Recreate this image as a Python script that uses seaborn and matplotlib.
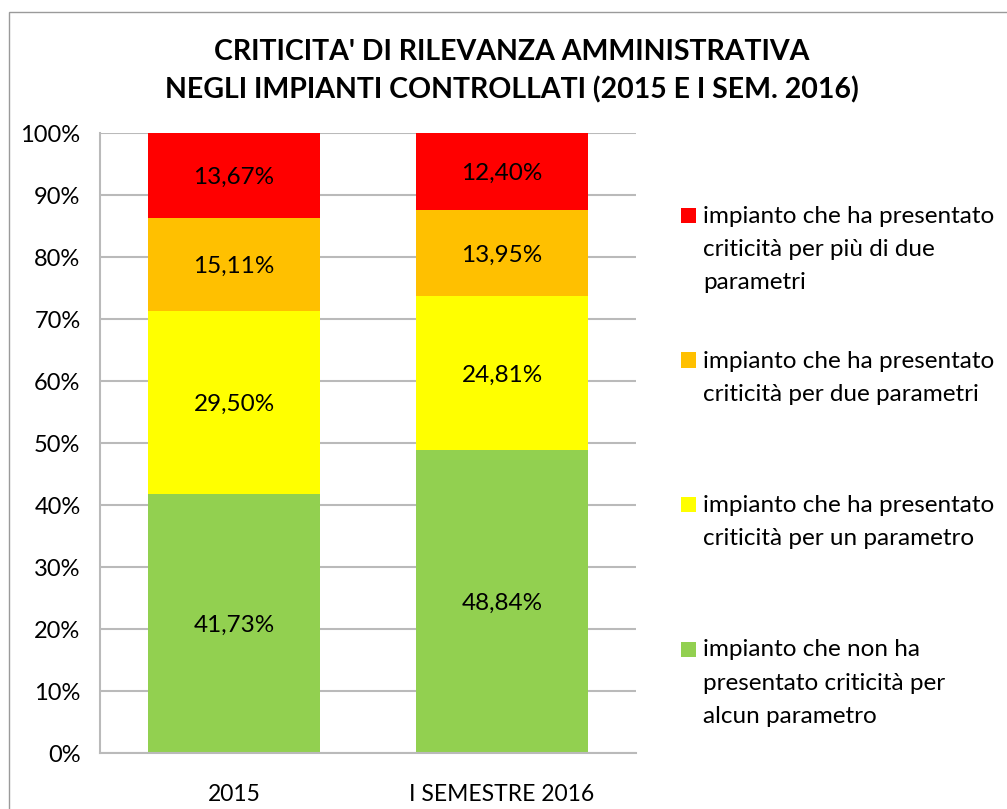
import numpy as np
import pandas as pd
import matplotlib
matplotlib.use("Agg")
import matplotlib.pyplot as plt
import matplotlib.patches as mpatches
import seaborn as sns

categories = ["2015", "I SEMESTRE 2016"]
series_names = [
    "impianto che non ha\npresentato criticità per\nalcun parametro",
    "impianto che ha presentato\ncriticità per un parametro",
    "impianto che ha presentato\ncriticità per due parametri",
    "impianto che ha presentato\ncriticità per più di due\nparametri",
]
values_2015 = [41.73, 29.50, 15.11, 13.67]
values_2016 = [48.84, 24.81, 13.95, 12.40]
colors = ["#92D050", "#FFFF00", "#FFC000", "#FF0000"]
yticks = [0, 10, 20, 30, 40, 50, 60, 70, 80, 90, 100]

title = "CRITICITA' DI RILEVANZA AMMINISTRATIVA\nNEGLI IMPIANTI CONTROLLATI (2015 E I SEM. 2016)"

sns.set_theme(style="white")
plt.rcParams["font.family"] = ["Lato", "DejaVu Sans"]

W, H = 1007, 809
fig = plt.figure(figsize=(W / 100, H / 100), dpi=100)
ax = fig.add_axes([100 / W, 1 - 753 / H, 536 / W, 620 / H])

vals = np.array([values_2015, values_2016])  # shape (cat, series)
cum = np.cumsum(vals, axis=1)

# draw from the top layer down so lower layers cover upper ones
for i in reversed(range(len(series_names))):
    df = pd.DataFrame({"cat": categories, "val": cum[:, i]})
    sns.barplot(data=df, x="cat", y="val", color=colors[i], saturation=1,
                width=0.645, linewidth=0, ax=ax, zorder=2)

for j in range(len(categories)):
    for i in range(len(series_names)):
        mid = cum[j, i] - vals[j, i] / 2
        ax.text(j, mid, f"{vals[j, i]:.2f}%".replace(".", ","), ha="center",
                va="center_baseline", fontsize=17.5, color="black", zorder=3)

ax.set_ylim(0, 100)
ax.set_xlim(-0.5, 1.5)
ax.set_yticks(yticks)
ax.set_yticklabels([f"{t}%" for t in yticks])
ax.set_xlabel("")
ax.set_ylabel("")
ax.set_axisbelow(True)
ax.yaxis.grid(True, color="#BABABA", linewidth=1.5, zorder=0)
ax.xaxis.grid(False)
for s in ["top", "right"]:
    ax.spines[s].set_visible(False)
for s in ["left", "bottom"]:
    ax.spines[s].set_color("#BABABA")
    ax.spines[s].set_linewidth(1.5)
ax.tick_params(axis="y", length=0, pad=14, labelsize=17, labelcolor="black")
ax.tick_params(axis="x", length=0, pad=22, labelsize=16.5, labelcolor="black")

fig.text(512 / W, 1 - 71 / H, title, ha="center", va="center", fontsize=20.5,
         fontweight="bold", linespacing=1.5, color="black")

# legend, top entry first, laid out like the spreadsheet legend
for k, i in enumerate(reversed(range(len(series_names)))):
    ytop = 215 + 144.5 * k
    fig.add_artist(mpatches.Rectangle((681 / W, 1 - (ytop + 8) / H), 15 / W, 15 / H,
                                      transform=fig.transFigure, facecolor=colors[i],
                                      edgecolor="none"))
    fig.text(703 / W, 1 - (ytop - 9) / H, series_names[i], ha="left", va="top",
             fontsize=17.5, linespacing=1.72, color="black")

# chart area border
fig.add_artist(mpatches.Rectangle((9 / W, -0.1), 1.2, (H - 12) / H + 0.1,
                                  transform=fig.transFigure, fill=False,
                                  edgecolor="#9A9A9A", linewidth=1))

fig.savefig("out.png", dpi=100)
